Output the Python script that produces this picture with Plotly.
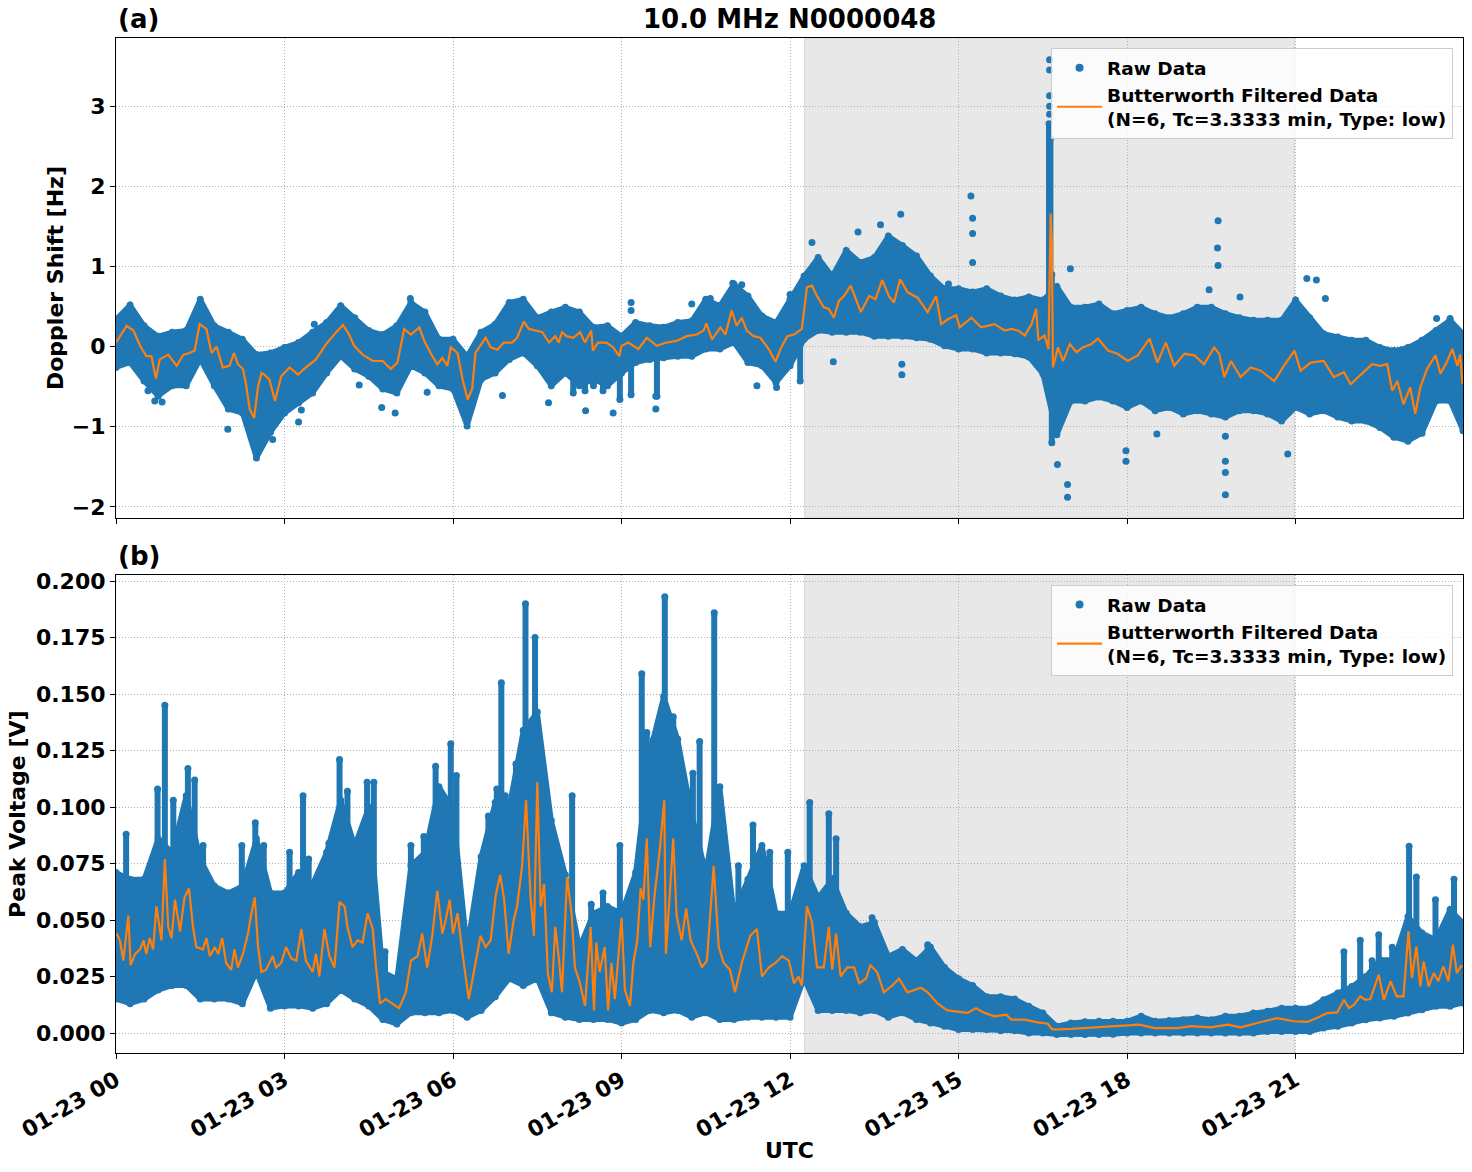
import pandas as pd
import plotly.graph_objects as go

BASE = pd.Timestamp("2024-01-23 00:00")


def ts(hours):
    return [None if h is None else BASE + pd.Timedelta(hours=h) for h in hours]


BLUE = "#1f77b4"
ORANGE = "#ff7f0e"
FONT = "DejaVu Sans"

# ---------------- time grid of the raw-data envelope (hours UTC) ----------------
env_hours = [
    0.0, 0.25, 0.5, 0.75, 1.0, 1.25, 1.5, 1.75,
    2.0, 2.25, 2.5, 2.75, 3.0, 3.25, 3.5, 3.75,
    4.0, 4.25, 4.5, 4.75, 5.0, 5.25, 5.5, 5.75,
    6.0, 6.25, 6.5, 6.75, 7.0, 7.25, 7.5, 7.75,
    8.0, 8.25, 8.5, 8.75, 9.0, 9.25, 9.5, 9.75,
    10.0, 10.25, 10.5, 10.75, 11.0, 11.25, 11.5, 11.75,
    12.0, 12.25, 12.5, 12.75, 13.0, 13.25, 13.5, 13.75,
    14.0, 14.25, 14.5, 14.75, 15.0, 15.25, 15.5, 15.75,
    16.0, 16.25, 16.5, 16.75, 17.0, 17.25, 17.5, 17.75,
    18.0, 18.25, 18.5, 18.75, 19.0, 19.25, 19.5, 19.75,
    20.0, 20.25, 20.5, 20.75, 21.0, 21.25, 21.5, 21.75,
    22.0, 22.25, 22.5, 22.75, 23.0, 23.25, 23.5, 23.75,
    23.98,
]

# ---------------- (a) Doppler shift [Hz] ----------------
dop_hi = [
    0.34, 0.52, 0.26, 0.13, 0.18, 0.20, 0.59, 0.26,
    0.18, 0.09, -0.10, -0.08, -0.01, 0.05, 0.18, 0.30,
    0.51, 0.36, 0.20, 0.15, 0.26, 0.55, 0.43, 0.09,
    0.09, -0.12, 0.18, 0.28, 0.55, 0.59, 0.36, 0.43,
    0.49, 0.43, 0.24, 0.26, 0.13, 0.30, 0.26, 0.24,
    0.30, 0.32, 0.59, 0.51, 0.78, 0.63, 0.38, 0.30,
    0.59, 0.88, 1.11, 0.88, 1.20, 1.05, 1.11, 1.38,
    1.26, 1.13, 0.88, 0.72, 0.72, 0.68, 0.72, 0.63,
    0.58, 0.62, 0.58, 0.75, 0.49, 0.49, 0.53, 0.41,
    0.45, 0.49, 0.41, 0.36, 0.41, 0.49, 0.49, 0.41,
    0.36, 0.33, 0.33, 0.33, 0.58, 0.36, 0.16, 0.12,
    0.08, 0.08, -0.01, -0.05, -0.01, 0.08, 0.20, 0.33,
    0.16,
]
dop_lo = [
    -0.26, -0.20, -0.43, -0.62, -0.49, -0.49, -0.16, -0.49,
    -0.78, -0.83, -1.39, -1.07, -0.83, -0.70, -0.58, -0.33,
    -0.12, -0.28, -0.37, -0.53, -0.58, -0.24, -0.33, -0.49,
    -0.53, -0.99, -0.41, -0.33, -0.16, -0.08, -0.24, -0.49,
    -0.33, -0.49, -0.41, -0.49, -0.33, -0.20, -0.16, -0.14,
    -0.12, -0.12, -0.03, -0.03, 0.05, -0.20, -0.24, -0.45,
    -0.24, 0.09, 0.20, 0.18, 0.18, 0.18, 0.13, 0.13,
    0.13, 0.11, 0.09, 0.01, -0.03, -0.03, -0.08, -0.08,
    -0.09, -0.13, -0.34, -1.10, -0.68, -0.68, -0.63, -0.68,
    -0.76, -0.68, -0.80, -0.76, -0.84, -0.80, -0.84, -0.88,
    -0.80, -0.80, -0.84, -0.93, -0.76, -0.84, -0.80, -0.88,
    -0.93, -0.93, -1.01, -1.13, -1.18, -1.08, -0.68, -0.68,
    -1.05,
]
# dense vertical columns of raw points
dop_col_t = [8.14, 8.35, 8.50, 8.67, 8.97, 9.17, 9.63, 12.18, 16.61, 16.635, 16.66]
dop_col_lo = [-0.58, -0.55, -0.49, -0.55, -0.66, -0.60, -0.62, -0.43, 0.40, 0.40, -1.20]
dop_col_hi = [0.10, 0.10, 0.05, 0.05, 0.00, 0.10, 0.00, 0.30, 2.78, 2.60, 0.90]
# isolated raw points
dop_out_t = [0.57, 0.69, 0.82, 1.99, 3.30, 3.25, 4.33, 4.73, 4.97, 5.24, 5.54, 6.88,
             7.70, 2.79, 3.53, 9.17, 9.17, 8.36, 8.85, 9.61, 9.61, 10.25, 10.58,
             10.98, 11.14, 11.41, 11.76, 12.00, 12.39, 12.77, 13.21, 13.97, 13.61,
             13.99, 13.99, 15.22, 15.25, 15.25, 15.25, 14.82, 19.62, 19.61, 19.62,
             19.75, 19.75, 19.75, 19.75, 16.94, 16.94, 16.76, 17.98, 17.98, 18.53,
             20.86, 16.99, 21.20, 21.37, 21.53, 23.51, 23.75, 20.01, 19.46,
             16.62, 16.62, 16.62, 16.62, 16.62]
dop_out_v = [-0.55, -0.68, -0.69, -1.03, -0.79, -0.94, -0.48, -0.76, -0.83, 0.60, -0.57, -0.61,
             -0.70, -1.16, 0.28, 0.55, 0.45, -0.80, -0.83, -0.78, -0.62, 0.53, 0.60,
             0.79, 0.77, -0.49, -0.51, 0.65, 1.30, -0.19, 1.43, 1.65, 1.52,
             -0.22, -0.35, 1.88, 1.60, 1.41, 1.05, 0.78, 1.57, 1.23, 1.01,
             -1.12, -1.43, -1.57, -1.85, -1.72, -1.88, -1.47, -1.30, -1.43, -1.09,
             -1.34, 0.97, 0.85, 0.83, 0.60, 0.35, 0.35, 0.62, 0.71,
             3.58, 3.45, 3.13, 3.00, 2.90]
# Butterworth filtered Doppler
dop_f_t = [
    0.00, 0.19, 0.31, 0.43, 0.54, 0.63, 0.71, 0.78, 0.93, 1.08, 1.20, 1.31, 1.40, 1.49,
    1.61, 1.70, 1.79, 1.90, 2.02, 2.10, 2.17, 2.26, 2.32, 2.38, 2.46, 2.53, 2.59, 2.64,
    2.73, 2.83, 2.94, 3.09, 3.24, 3.38, 3.56, 3.74, 3.92, 4.04, 4.15, 4.24, 4.39, 4.57,
    4.75, 4.89, 5.01, 5.13, 5.25, 5.40, 5.49, 5.60, 5.72, 5.81, 5.90, 5.96, 6.08, 6.17,
    6.26, 6.34, 6.40, 6.58, 6.67, 6.79, 6.90, 7.05, 7.14, 7.26, 7.35, 7.47, 7.59, 7.71,
    7.82, 7.88, 7.94,
    8.02, 8.14, 8.26, 8.35, 8.46, 8.49, 8.58, 8.73, 8.85, 8.96, 9.00, 9.12, 9.30, 9.45,
    9.63, 9.80, 9.98, 10.16, 10.34, 10.46, 10.51, 10.61, 10.76, 10.85, 10.96, 11.05,
    11.14, 11.23, 11.35, 11.47, 11.62, 11.74, 11.83, 11.95, 12.07, 12.21, 12.30, 12.39,
    12.48, 12.60, 12.69, 12.78, 12.87, 12.96, 13.08, 13.17, 13.26, 13.41, 13.52, 13.64,
    13.76, 13.85, 13.96, 14.09, 14.27, 14.45, 14.60, 14.69, 14.81, 14.96, 15.02, 15.23,
    15.40, 15.64, 15.82,
    15.94, 16.06, 16.18, 16.30, 16.38, 16.42, 16.53, 16.60, 16.64, 16.66, 16.68, 16.77,
    16.86, 16.98, 17.10, 17.21, 17.36, 17.48, 17.66, 17.83, 18.01, 18.19, 18.40, 18.54,
    18.69, 18.84, 19.02, 19.20, 19.37, 19.55, 19.64, 19.73, 19.85, 20.02, 20.20, 20.38,
    20.62, 20.79, 20.98, 21.09, 21.27, 21.50, 21.68, 21.86, 21.98, 22.15, 22.36, 22.51,
    22.63, 22.72, 22.81, 22.92, 23.04, 23.13, 23.22, 23.34, 23.49, 23.58, 23.70, 23.79,
    23.88, 23.93, 23.97,
]
dop_f_v = [
    0.05, 0.26, 0.20, 0.01, -0.12, -0.12, -0.40, -0.16, -0.10, -0.24, -0.10, -0.08, -0.05, 0.28,
    0.22, -0.08, 0.00, -0.26, -0.24, -0.08, -0.22, -0.28, -0.49, -0.78, -0.89, -0.49, -0.33, -0.35,
    -0.41, -0.68, -0.37, -0.26, -0.35, -0.26, -0.16, 0.03, 0.18, 0.27, 0.15, 0.01, -0.10, -0.18,
    -0.18, -0.28, -0.20, 0.22, 0.15, 0.24, 0.07, -0.08, -0.22, -0.14, -0.24, -0.01, -0.08, -0.41,
    -0.66, -0.53, -0.08, 0.11, -0.01, -0.04, 0.05, 0.05, 0.11, 0.31, 0.22, 0.20, 0.18, 0.05,
    0.13, 0.05, 0.18,
    0.13, 0.11, 0.18, 0.05, 0.20, -0.05, 0.05, 0.05, -0.01, -0.12, 0.01, 0.05, -0.03, 0.11,
    0.01, 0.05, 0.07, 0.13, 0.15, 0.20, 0.29, 0.09, 0.24, 0.15, 0.45, 0.26,
    0.36, 0.20, 0.13, 0.11, -0.03, -0.19, -0.03, 0.13, 0.15, 0.22, 0.74, 0.76,
    0.63, 0.49, 0.47, 0.36, 0.57, 0.63, 0.76, 0.59, 0.43, 0.63, 0.59, 0.83,
    0.63, 0.55, 0.84, 0.68, 0.61, 0.43, 0.63, 0.28, 0.34, 0.39, 0.24, 0.36,
    0.24, 0.28, 0.20,
    0.22, 0.20, 0.14, 0.28, 0.47, 0.08, 0.14, -0.03, 1.66, 1.33, -0.26, -0.01,
    -0.18, 0.03, -0.07, -0.01, 0.03, 0.10, -0.05, -0.09, -0.18, -0.11, 0.10, -0.20,
    0.05, -0.24, -0.09, -0.11, -0.22, -0.01, -0.09, -0.38, -0.18, -0.38, -0.26, -0.30,
    -0.43, -0.24, -0.05, -0.30, -0.20, -0.18, -0.38, -0.32, -0.47, -0.36, -0.22, -0.24,
    -0.22, -0.55, -0.43, -0.72, -0.51, -0.84, -0.51, -0.28, -0.11, -0.34, -0.18, -0.03,
    -0.24, -0.10, -0.47,
]

# ---------------- (b) Peak voltage [V] ----------------
pv_hi = [
    0.071, 0.068, 0.068, 0.086, 0.080, 0.105, 0.077, 0.065,
    0.062, 0.065, 0.086, 0.062, 0.062, 0.071, 0.066, 0.080,
    0.103, 0.083, 0.100, 0.027, 0.024, 0.074, 0.080, 0.109,
    0.099, 0.038, 0.078, 0.102, 0.100, 0.134, 0.142, 0.094,
    0.070, 0.038, 0.053, 0.056, 0.053, 0.071, 0.124, 0.149,
    0.130, 0.097, 0.071, 0.109, 0.053, 0.068, 0.083, 0.053,
    0.053, 0.074, 0.060, 0.068, 0.053, 0.047, 0.049, 0.034,
    0.037, 0.032, 0.038, 0.029, 0.024, 0.021, 0.016, 0.016,
    0.0150, 0.0118, 0.0088, 0.0030, 0.0044, 0.0050, 0.0052, 0.0052,
    0.0052, 0.0074, 0.0052, 0.0055, 0.0059, 0.0066, 0.0059, 0.0074,
    0.0074, 0.0088, 0.0096, 0.0110, 0.0110, 0.0110, 0.0147, 0.0177,
    0.0206, 0.0250, 0.0324, 0.0324, 0.0516, 0.0442, 0.0413, 0.0546,
    0.0487,
]
pv_lo = [
    0.015, 0.013, 0.015, 0.019, 0.021, 0.021, 0.015, 0.015,
    0.015, 0.013, 0.027, 0.011, 0.012, 0.012, 0.011, 0.013,
    0.019, 0.015, 0.012, 0.006, 0.004, 0.009, 0.009, 0.009,
    0.010, 0.007, 0.010, 0.016, 0.024, 0.021, 0.024, 0.009,
    0.007, 0.006, 0.006, 0.006, 0.0044, 0.006, 0.010, 0.009,
    0.010, 0.007, 0.009, 0.006, 0.006, 0.007, 0.007, 0.007,
    0.007, 0.024, 0.010, 0.010, 0.010, 0.009, 0.010, 0.007,
    0.009, 0.006, 0.0044, 0.003, 0.0015, 0.0015, 0.0015, 0.001,
    0.001, 0.0, 0.0, -0.0007, -0.0007, -0.0007, -0.0007, -0.0005,
    0.0, 0.0, 0.0, 0.0, 0.0, 0.0, 0.0, 0.0,
    0.0, 0.0, 0.0007, 0.0007, 0.0007, 0.0007, 0.0022, 0.003,
    0.0044, 0.0059, 0.0066, 0.0074, 0.0088, 0.0103, 0.0118, 0.0118,
    0.0133,
]
pv_col_t = [0.18, 0.74, 0.87, 1.02, 1.28, 1.40, 1.55, 2.24, 2.48, 2.63, 3.09, 3.33, 3.43,
            3.79, 3.98, 4.12, 4.32, 4.47, 4.59, 4.79, 5.25, 5.48, 5.69, 5.96, 6.06, 6.63,
            6.78, 6.86, 6.93, 7.12, 7.29, 7.46,
            8.12, 8.46, 8.67, 8.97, 9.36, 9.45, 9.57, 9.77, 9.92, 9.98, 10.16, 10.27, 10.39,
            10.65, 10.88, 11.08, 11.34, 11.64, 11.96, 12.35, 12.69, 12.82, 13.46, 14.45,
            21.86, 22.15, 22.36, 22.48, 22.72, 23.02, 23.15, 23.49, 23.82]
pv_col_lo = [0.030] * 19 + [0.015] + [0.030] * 12 + [0.020] * 23 + [0.015] + \
            [0.012, 0.012, 0.015, 0.015, 0.015, 0.020, 0.020, 0.020, 0.020]
pv_col_hi = [0.088, 0.108, 0.145, 0.103, 0.117, 0.112, 0.083, 0.083, 0.093, 0.083, 0.080,
             0.105, 0.077, 0.084, 0.121, 0.107, 0.084, 0.111, 0.111, 0.036, 0.083, 0.087,
             0.118, 0.128, 0.114, 0.096, 0.108, 0.155, 0.105, 0.119, 0.190, 0.175,
             0.105, 0.057, 0.062, 0.083, 0.159, 0.133, 0.130, 0.193, 0.140, 0.118, 0.107,
             0.115, 0.129, 0.186, 0.065, 0.074, 0.092, 0.080, 0.080, 0.102, 0.097, 0.086,
             0.051, 0.039,
             0.036, 0.041, 0.032, 0.0435, 0.038, 0.0826, 0.069, 0.059, 0.068]
pv_f_t = [
    0.01, 0.07, 0.13, 0.19, 0.22, 0.26, 0.34, 0.43, 0.49, 0.54, 0.60, 0.66, 0.72, 0.81,
    0.87, 0.93, 0.99, 1.05, 1.14, 1.22, 1.30, 1.37, 1.43, 1.55, 1.61, 1.67, 1.76, 1.82,
    1.89, 1.96, 2.05, 2.11, 2.17, 2.26, 2.35, 2.41, 2.47, 2.53, 2.59, 2.67, 2.79, 2.85,
    2.94, 3.03, 3.12, 3.21, 3.30, 3.38, 3.50, 3.56, 3.62, 3.71, 3.80, 3.89, 3.98, 4.07,
    4.12, 4.21, 4.30, 4.39, 4.48, 4.57, 4.63, 4.70, 4.80, 4.92, 5.04, 5.16, 5.25, 5.37,
    5.45, 5.54, 5.63, 5.72, 5.81, 5.87, 5.94, 6.00, 6.08, 6.17, 6.28, 6.40, 6.49, 6.58,
    6.67, 6.76, 6.84, 6.91, 6.99, 7.08, 7.14, 7.23, 7.30, 7.38, 7.44, 7.50, 7.56, 7.62,
    7.69, 7.76, 7.82, 7.88, 7.94,
    8.03, 8.11, 8.17, 8.26, 8.35, 8.40, 8.45, 8.51, 8.55, 8.61, 8.70, 8.76, 8.82, 8.88,
    9.00, 9.06, 9.15, 9.21, 9.28, 9.34, 9.39, 9.45, 9.51, 9.58, 9.68, 9.76, 9.79, 9.86,
    9.92, 9.98, 10.07, 10.15, 10.23, 10.34, 10.43, 10.52, 10.64, 10.73, 10.82, 10.93,
    11.02, 11.14, 11.29, 11.41, 11.50, 11.62, 11.74, 11.86, 11.98, 12.07, 12.15, 12.21,
    12.30, 12.39, 12.48, 12.60, 12.69, 12.75, 12.82, 12.90, 13.02, 13.14, 13.23, 13.35,
    13.43, 13.55, 13.67, 13.82, 13.94, 14.09, 14.33, 14.45, 14.63, 14.80, 14.98, 15.16,
    15.31, 15.46, 15.64, 15.85, 15.94, 16.10,
    16.18, 16.41, 16.59, 16.66, 16.71, 17.01, 17.42, 17.83, 18.22, 18.49, 18.90, 19.14,
    19.49, 19.79, 20.02, 20.44, 20.67, 20.97, 21.21, 21.38, 21.56, 21.74, 21.86, 21.95,
    22.04, 22.15, 22.24, 22.33, 22.48, 22.57, 22.69, 22.80, 22.92, 23.01, 23.07, 23.15,
    23.22, 23.28, 23.37, 23.46, 23.54, 23.63, 23.72, 23.80, 23.87, 23.94, 23.99,
]
pv_f_v = [
    0.044, 0.041, 0.032, 0.044, 0.052, 0.030, 0.035, 0.037, 0.041, 0.035, 0.042, 0.037, 0.056, 0.041,
    0.077, 0.047, 0.042, 0.059, 0.045, 0.060, 0.064, 0.047, 0.038, 0.037, 0.042, 0.034, 0.038, 0.035,
    0.042, 0.031, 0.028, 0.037, 0.029, 0.035, 0.044, 0.053, 0.060, 0.038, 0.027, 0.028, 0.034, 0.029,
    0.031, 0.038, 0.033, 0.032, 0.046, 0.032, 0.027, 0.035, 0.025, 0.046, 0.034, 0.029, 0.058, 0.056,
    0.047, 0.038, 0.041, 0.040, 0.053, 0.046, 0.029, 0.013, 0.015, 0.013, 0.011, 0.018, 0.032, 0.034,
    0.044, 0.029, 0.043, 0.063, 0.044, 0.050, 0.059, 0.044, 0.053, 0.035, 0.015, 0.031, 0.043, 0.038,
    0.041, 0.061, 0.070, 0.059, 0.035, 0.050, 0.056, 0.074, 0.103, 0.060, 0.043, 0.111, 0.056, 0.066,
    0.026, 0.018, 0.047, 0.034, 0.018,
    0.069, 0.053, 0.029, 0.022, 0.012, 0.029, 0.047, 0.010, 0.040, 0.027, 0.038, 0.010, 0.031, 0.015,
    0.051, 0.019, 0.012, 0.031, 0.041, 0.064, 0.059, 0.086, 0.038, 0.059, 0.081, 0.103, 0.035, 0.062,
    0.086, 0.052, 0.041, 0.055, 0.041, 0.035, 0.029, 0.032, 0.074, 0.038, 0.031, 0.028,
    0.018, 0.031, 0.043, 0.046, 0.025, 0.029, 0.031, 0.034, 0.032, 0.022, 0.025, 0.021,
    0.056, 0.049, 0.029, 0.029, 0.047, 0.028, 0.044, 0.025, 0.029, 0.029, 0.022, 0.024,
    0.030, 0.027, 0.018, 0.021, 0.024, 0.018, 0.020, 0.018, 0.013, 0.010, 0.0096, 0.0089,
    0.011, 0.0089, 0.0074, 0.0081, 0.0059, 0.0059,
    0.0059, 0.0047, 0.0041, 0.0018, 0.0015, 0.0018, 0.0025, 0.0030, 0.0037, 0.0022, 0.0022, 0.0030,
    0.0025, 0.0037, 0.0025, 0.0052, 0.0066, 0.0052, 0.0049, 0.0066, 0.0088, 0.0091, 0.0147, 0.0110,
    0.0125, 0.0162, 0.0147, 0.0150, 0.0258, 0.0147, 0.0229, 0.0162, 0.0162, 0.0450, 0.0243, 0.0383,
    0.0206, 0.0317, 0.0206, 0.0265, 0.0229, 0.0295, 0.0229, 0.0391, 0.0265, 0.0295, 0.0295,
]

# shaded interval (hours UTC)
shade_start_h = 12.26
shade_end_h = 20.98

legend_raw = "Raw Data"
legend_filt = "Butterworth Filtered Data<br>(N=6, Tc=3.3333 min, Type: low)"
panel_title = "10.0 MHz N0000048"


def columns(t, lo, hi):
    xs, ys = [], []
    for a, b, c in zip(t, lo, hi):
        xs += [a, a, None]
        ys += [b, c, None]
    return ts(xs), ys


fig = go.Figure()


def add_panel(xa, ya, lg, hi, lo, col_t, col_lo, col_hi, out_t, out_v, f_t, f_v):
    common = dict(xaxis=xa, yaxis=ya, hoverinfo="skip", showlegend=False)
    fig.add_trace(go.Scatter(x=ts(env_hours), y=lo, mode="lines+markers",
                             line=dict(color=BLUE, width=5), marker=dict(size=7, color=BLUE),
                             **common))
    fig.add_trace(go.Scatter(x=ts(env_hours), y=hi, mode="lines+markers", fill="tonexty",
                             fillcolor=BLUE, line=dict(color=BLUE, width=5),
                             marker=dict(size=7, color=BLUE), **common))
    cx, cy = columns(col_t, col_lo, col_hi)
    fig.add_trace(go.Scatter(x=cx, y=cy, mode="lines+markers", line=dict(color=BLUE, width=6),
                             marker=dict(size=7, color=BLUE), connectgaps=False, **common))
    if out_t:
        fig.add_trace(go.Scatter(x=ts(out_t), y=out_v, mode="markers",
                                 marker=dict(size=7, color=BLUE), **common))
    fig.add_trace(go.Scatter(x=[None], y=[None], mode="markers", name=legend_raw,
                             marker=dict(size=8, color=BLUE), xaxis=xa, yaxis=ya,
                             legend=lg, showlegend=True))
    fig.add_trace(go.Scatter(x=ts(f_t), y=f_v, mode="lines", name=legend_filt,
                             line=dict(color=ORANGE, width=2.2), xaxis=xa, yaxis=ya,
                             legend=lg, showlegend=True, hoverinfo="skip"))


add_panel("x", "y", "legend", dop_hi, dop_lo, dop_col_t, dop_col_lo, dop_col_hi,
          dop_out_t, dop_out_v, dop_f_t, dop_f_v)
add_panel("x2", "y2", "legend2", pv_hi, pv_lo, pv_col_t, pv_col_lo, pv_col_hi,
          [], [], pv_f_t, pv_f_v)

x_range = [BASE, BASE + pd.Timedelta(hours=23.98)]
axis_common = dict(
    showline=True, linecolor="black", linewidth=1.1, mirror=True,
    ticks="outside", ticklen=5, tickwidth=1.1, tickcolor="black",
    showgrid=True, gridcolor="#b0b0b0", griddash="1px,2px", gridwidth=1,
    zeroline=False, automargin=False,
    tickfont=dict(family=FONT, size=22, color="black", weight="bold"),
)
xcommon = dict(type="date", range=x_range, tick0=BASE, dtick=3 * 3600 * 1000, **axis_common)

legend_common = dict(xanchor="right", yanchor="top", traceorder="normal",
                     bgcolor="rgba(255,255,255,0.8)", bordercolor="#cccccc", borderwidth=1,
                     itemwidth=45, tracegroupgap=0,
                     font=dict(family=FONT, size=18.5, color="black", weight="bold"))

fig.update_layout(
    width=1472, height=1172, autosize=False,
    margin=dict(l=116, r=9, t=38, b=119),
    paper_bgcolor="white", plot_bgcolor="white",
    font=dict(family=FONT, color="black", weight="bold"),
    xaxis=dict(domain=[0, 1], anchor="y", matches="x2", showticklabels=False, **xcommon),
    xaxis2=dict(domain=[0, 1], anchor="y2", tickformat="%m-%d %H", tickangle=-30, **xcommon),
    yaxis=dict(domain=[0.527, 1], anchor="x", range=[-2.14, 3.85], dtick=1, tick0=0,
               **axis_common),
    yaxis2=dict(domain=[0, 0.471], anchor="x2", range=[-0.00885, 0.2027], dtick=0.025,
                tick0=0, tickformat=".3f", **axis_common),
    legend=dict(x=0.9926, y=0.99, **legend_common),
    legend2=dict(x=0.9926, y=0.461, **legend_common),
    shapes=[
        dict(type="rect", xref="x", yref="y domain", x0=BASE + pd.Timedelta(hours=shade_start_h),
             x1=BASE + pd.Timedelta(hours=shade_end_h), y0=0, y1=1, fillcolor="#e8e8e8",
             line=dict(color="#d6d6d6", width=1), layer="below"),
        dict(type="rect", xref="x2", yref="y2 domain", x0=BASE + pd.Timedelta(hours=shade_start_h),
             x1=BASE + pd.Timedelta(hours=shade_end_h), y0=0, y1=1, fillcolor="#e8e8e8",
             line=dict(color="#d6d6d6", width=1), layer="below"),
    ],
    annotations=[
        dict(text=panel_title, xref="paper", yref="paper", x=0.5, y=1.002, xanchor="center",
             yanchor="bottom", showarrow=False, font=dict(size=26)),
        dict(text="(a)", xref="paper", yref="paper", x=0, y=1.002, xanchor="left",
             yanchor="bottom", showarrow=False, font=dict(size=26)),
        dict(text="(b)", xref="paper", yref="paper", x=0, y=0.473, xanchor="left",
             yanchor="bottom", showarrow=False, font=dict(size=26)),
        dict(text="Doppler Shift [Hz]", xref="paper", yref="paper", x=-0.0453, y=0.7635,
             xanchor="center", yanchor="middle", textangle=-90, showarrow=False,
             font=dict(size=22)),
        dict(text="Peak Voltage [V]", xref="paper", yref="paper", x=-0.0728, y=0.2355,
             xanchor="center", yanchor="middle", textangle=-90, showarrow=False,
             font=dict(size=22)),
        dict(text="UTC", xref="paper", yref="paper", x=0.5, y=-0.0956, xanchor="center",
             yanchor="middle", showarrow=False, font=dict(size=22)),
    ],
)

fig.write_html("out.html")
